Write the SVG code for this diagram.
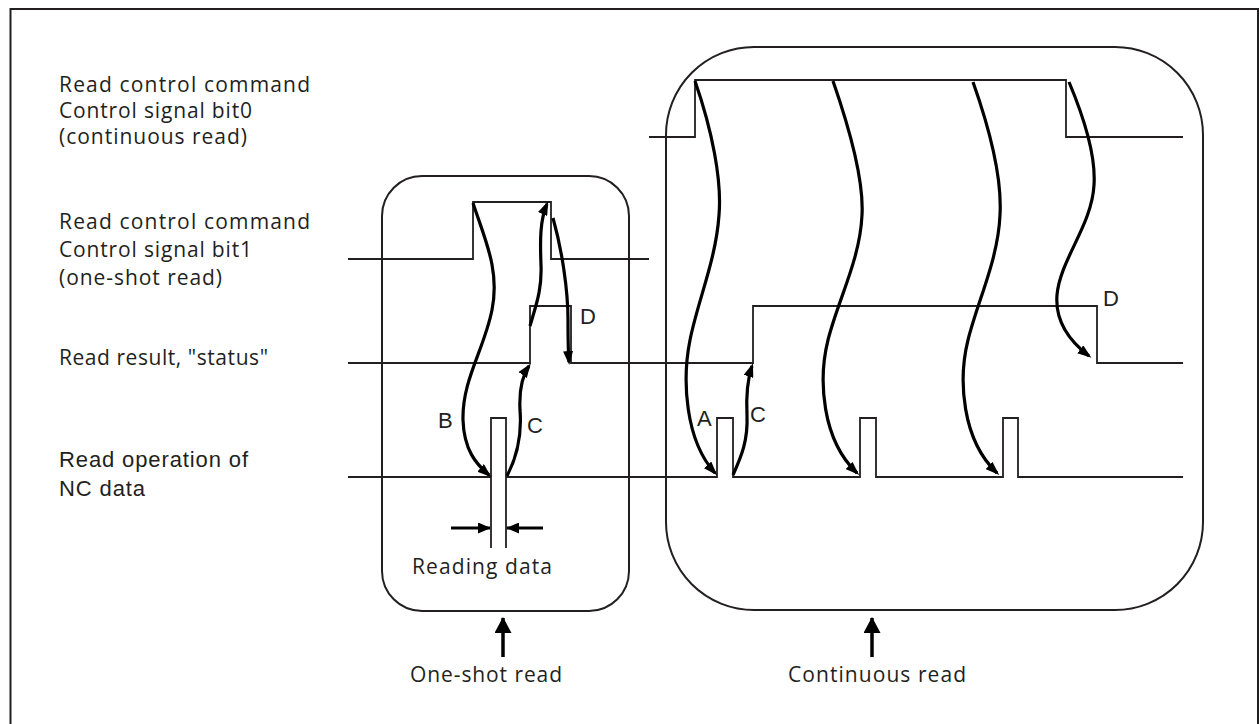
<svg xmlns="http://www.w3.org/2000/svg" width="1260" height="724" viewBox="0 0 1260 724">
<style>
.lbl{font-family:"Open Sans","Noto Sans","DejaVu Sans",sans-serif;font-size:21px;fill:#231f20}
.arl{font-family:"Liberation Sans",Arial,sans-serif;font-size:22px;fill:#231f20}
.ltr{font-family:"Liberation Sans",Arial,sans-serif;font-size:22px;fill:#231f20}
.sig{fill:none;stroke:#231f20;stroke-width:1.8;stroke-linejoin:miter}
.box{fill:none;stroke:#231f20;stroke-width:2}
.cur{fill:none;stroke:#000;stroke-width:3.2;marker-end:url(#ah)}
.dim{fill:none;stroke:#000;stroke-width:3;marker-end:url(#ah2)}
.up{fill:none;stroke:#000;stroke-width:3.5;marker-end:url(#ah3)}
</style>
<defs>
<marker id="ah" markerUnits="userSpaceOnUse" markerWidth="14" markerHeight="10" viewBox="0 0 14 10" refX="11" refY="5" orient="auto"><path d="M0,0 L14,5 L0,10 z" fill="#000"/></marker>
<marker id="ah2" markerUnits="userSpaceOnUse" markerWidth="13" markerHeight="11" viewBox="0 0 13 11" refX="12" refY="5.5" orient="auto"><path d="M0,0 L13,5.5 L0,11 z" fill="#000"/></marker>
<marker id="ah3" markerUnits="userSpaceOnUse" markerWidth="16" markerHeight="17" viewBox="0 0 16 17" refX="15" refY="8.5" orient="auto"><path d="M0,0 L16,8.5 L0,17 z" fill="#000"/></marker>
</defs>
<rect width="1260" height="724" fill="#fff"/>
<g id="frame"><rect x="10.5" y="9" width="1247.5" height="720" class="box"/></g>

<g id="labels">
<text class="lbl" x="59" y="92" textLength="251" lengthAdjust="spacing">Read control command</text>
<text class="lbl" x="59" y="118" textLength="193" lengthAdjust="spacing">Control signal bit0</text>
<text class="lbl" x="59" y="144" textLength="188" lengthAdjust="spacing">(continuous read)</text>
<text class="lbl" x="59" y="229" textLength="251" lengthAdjust="spacing">Read control command</text>
<text class="lbl" x="59" y="257" textLength="193" lengthAdjust="spacing">Control signal bit1</text>
<text class="lbl" x="59" y="285" textLength="163" lengthAdjust="spacing">(one-shot read)</text>
<text class="lbl" x="59" y="365" textLength="209" lengthAdjust="spacing">Read result, "status"</text>
<text class="arl" x="59" y="467" textLength="189" lengthAdjust="spacing">Read operation of</text>
<text class="arl" x="59" y="496" textLength="86" lengthAdjust="spacing">NC data</text>
</g>

<g id="box-oneshot">
<rect x="382" y="176" width="247" height="435" rx="40" ry="40" class="box"/>
<text class="lbl" x="412" y="574" textLength="140" lengthAdjust="spacing">Reading data</text>
<path class="up" d="M503,657 L503,618"/>
<text class="lbl" x="410" y="682" textLength="152" lengthAdjust="spacing">One-shot read</text>
</g>

<g id="box-continuous">
<rect x="666" y="47" width="537" height="563" rx="88" ry="88" class="box"/>
<path class="up" d="M872,657 L872,618"/>
<text class="lbl" x="788" y="682" textLength="178" lengthAdjust="spacing">Continuous read</text>
</g>

<g id="signals">
<path id="sig-bit0" class="sig" d="M649,137 L695,137 L695,80 L1066,80 L1066,137 L1183,137"/>
<path id="sig-bit1" class="sig" d="M348,259 L473,259 L473,202 L551,202 L551,259 L649,259"/>
<path id="sig-status" class="sig" d="M348,363 L530,363 L530,306 L571,306 L571,363 L753,363 L753,306 L1097,306 L1097,363 L1183,363"/>
<path id="sig-nc" class="sig" d="M348,477 L491,477 M491,548 L491,418 L506,418 L506,548 M506,477 L717,477 L717,418 L733,418 L733,477 L860,477 L860,418 L876,418 L876,477 L1003,477 L1003,418 L1018,418 L1018,477 L1183,477"/>
</g>

<g id="connectors">
<path class="cur" d="M473,203 C485,240 500,270 492,310 C484,350 462,380 463,420 C464,450 476,464 489,475"/>
<path class="cur" d="M507,476 C518,455 522,435 520,410 C519,390 522,376 529,366"/>
<path class="cur" d="M530,326 C536,305 542,290 541,265 C540,240 540,220 547,204"/>
<path class="cur" d="M553,218 C562,250 568,290 568,320 C568,340 568,350 569,362"/>
<path class="cur" d="M695,81 C712,130 722,180 719,215 C716,260 698,300 690,340 C682,380 685,440 715,473"/>
<path class="cur" d="M733,475 C742,455 748,440 747,415 C746,395 748,378 752,366"/>
<path class="cur" d="M833,81 C850,130 864,180 862,215 C860,260 838,300 828,340 C818,380 822,440 857,473"/>
<path class="cur" d="M973,82 C990,130 1002,180 1000,215 C998,260 978,300 968,340 C958,380 962,440 997,473"/>
<path class="cur" d="M1069,82 C1085,120 1096,155 1094,185 C1092,225 1060,260 1057,295 C1055,320 1068,340 1089,356"/>
<path class="dim" d="M451,528 L490,528"/>
<path class="dim" d="M543,528 L507,528"/>
<text class="ltr" x="438" y="428">B</text>
<text class="ltr" x="527" y="433">C</text>
<text class="ltr" x="580" y="324">D</text>
<text class="ltr" x="697" y="426">A</text>
<text class="ltr" x="750" y="422">C</text>
<text class="ltr" x="1103" y="306">D</text>
</g>
</svg>
